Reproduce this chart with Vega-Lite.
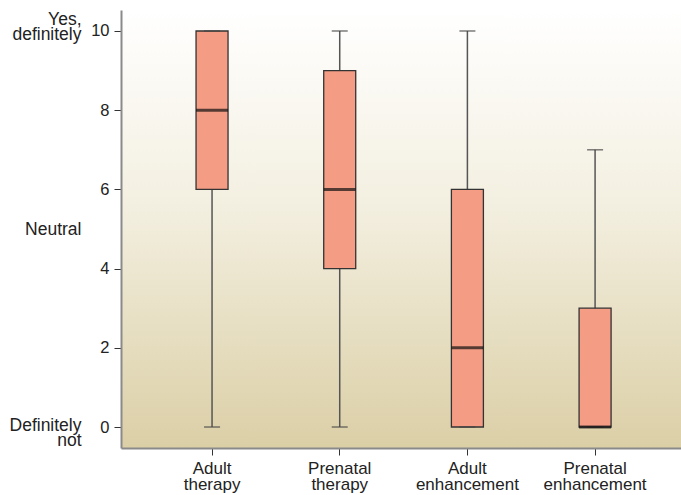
{
  "$schema": "https://vega.github.io/schema/vega-lite/v6.json",
  "width": 560,
  "height": 438,
  "autosize": {"type": "none"},
  "padding": {"left": 121, "top": 10, "right": 0, "bottom": 47},
  "config": {
    "font": "Liberation Sans",
    "view": {
      "stroke": null,
      "fill": {
        "gradient": "linear", "x1": 0, "y1": 0, "x2": 0, "y2": 1,
        "stops": [
          {"offset": 0, "color": "#ffffff"},
          {"offset": 0.45, "color": "#f3efe0"},
          {"offset": 1, "color": "#dbcfa6"}
        ]
      }
    },
    "axis": {"labelColor": "#222222", "labelFontSize": 17, "labelLineHeight": 16.5, "grid": false, "title": null}
  },
  "data": {
    "values": [
      {"group": "Adult therapy", "min": 0, "q1": 6, "median": 8, "q3": 10, "max": 10},
      {"group": "Prenatal therapy", "min": 0, "q1": 4, "median": 6, "q3": 9, "max": 10},
      {"group": "Adult enhancement", "min": 0, "q1": 0, "median": 2, "q3": 6, "max": 10},
      {"group": "Prenatal enhancement", "min": 0, "q1": 0, "median": 0, "q3": 3, "max": 7}
    ]
  },
  "encoding": {
    "x": {
      "field": "group", "type": "nominal", "sort": null,
      "scale": {"paddingInner": 0, "paddingOuter": 0.193, "align": 0.552},
      "axis": {
        "labelAngle": 0, "labelExpr": "split(datum.label, ' ')",
        "domainColor": "#8a8a8a", "domainWidth": 2, "tickColor": "#333333",
        "tickSize": 7, "labelPadding": 5, "labelBaseline": "top"
      }
    }
  },
  "resolve": {"axis": {"y": "independent"}, "scale": {"y": "shared"}},
  "layer": [
    {
      "mark": {"type": "rule", "color": "#555555", "strokeWidth": 1.5},
      "encoding": {
        "y": {
          "field": "min", "type": "quantitative",
          "scale": {"domain": [-0.53, 10.53], "nice": false, "zero": false},
          "axis": {
            "orient": "left", "values": [0, 2, 4, 6, 8, 10],
            "domainColor": "#8a8a8a", "domainWidth": 2, "tickColor": "#333333",
            "tickSize": 7, "labelPadding": 5, "labelFontSize": 16.5
          }
        },
        "y2": {"field": "max"}
      }
    },
    {
      "mark": {"type": "bar", "width": 32, "fill": "#f59c85", "stroke": "#333333", "strokeWidth": 1.3},
      "encoding": {
        "y": {
          "field": "q1", "type": "quantitative",
          "axis": {
            "orient": "left", "values": [10.3, 5, 0.05],
            "labelExpr": "datum.value > 9 ? ['Yes,', 'definitely'] : datum.value > 4 ? 'Neutral' : ['Definitely', 'not']",
            "domain": false, "ticks": false, "labelPadding": 40, "labelFontSize": 17.5, "labelLineHeight": 15.5, "labelBaseline": "middle"
          }
        },
        "y2": {"field": "q3"}
      }
    },
    {
      "mark": {"type": "tick", "color": "#444444", "size": 16, "thickness": 1.5},
      "encoding": {"y": {"field": "min", "type": "quantitative", "axis": null}}
    },
    {
      "mark": {"type": "tick", "color": "#444444", "size": 16, "thickness": 1.5},
      "encoding": {"y": {"field": "max", "type": "quantitative", "axis": null}}
    },
    {
      "mark": {"type": "tick", "color": "#111111", "size": 32, "thickness": 3},
      "encoding": {"y": {"field": "median", "type": "quantitative", "axis": null}}
    }
  ]
}
